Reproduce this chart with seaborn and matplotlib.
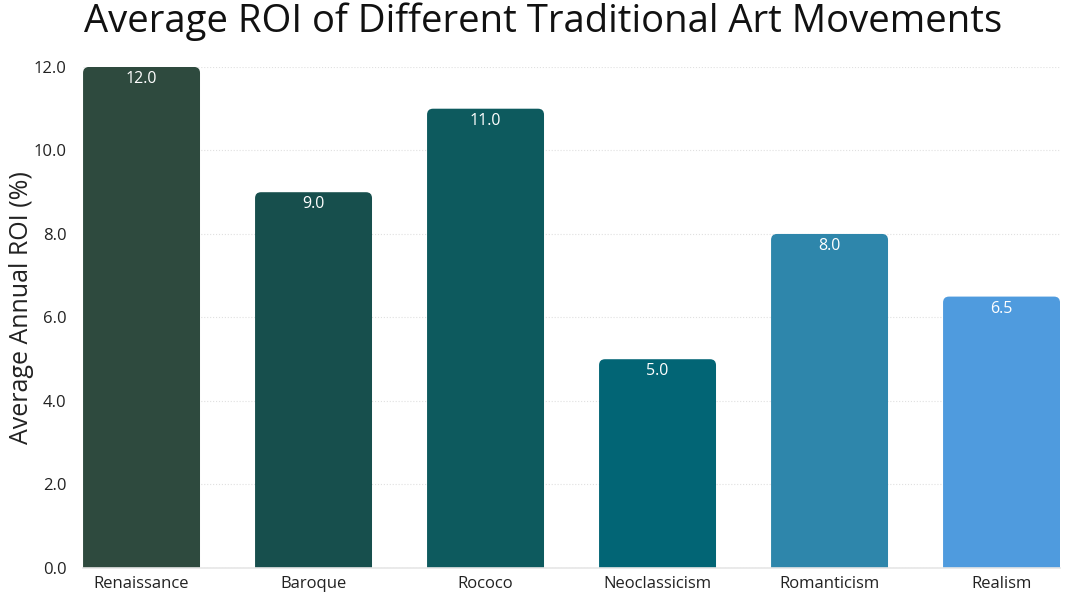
import pandas as pd
import matplotlib
matplotlib.use("Agg")
import matplotlib.pyplot as plt
import seaborn as sns
from matplotlib.patches import FancyBboxPatch

movements = ["Renaissance", "Baroque", "Rococo", "Neoclassicism", "Romanticism", "Realism"]
roi = [12.0, 9.0, 11.0, 5.0, 8.0, 6.5]
colors = ["#2E4A3E", "#174F4D", "#0D5A5E", "#026575", "#2E86AB", "#4F9BDE"]

sns.set_style("white")
plt.rcParams["font.family"] = ["Open Sans", "DejaVu Sans"]

df = pd.DataFrame({"movement": movements, "roi": roi})

fig = plt.figure(figsize=(10.8, 6.07), dpi=100)
ax = fig.add_axes([0.0769, 0.0643, 0.9046, 0.8254])

sns.barplot(data=df, x="movement", y="roi", hue="movement", palette=colors,
            width=0.68, legend=False, ax=ax, saturation=1)

# swap plain bars for ones with rounded tops
px_x = 977 / 5.68
px_y = 501 / 12.0
aspect = px_x / px_y
rad = 6 / px_x
for p in list(ax.patches):
    x0, w, h = p.get_x(), p.get_width(), p.get_height()
    fc = p.get_facecolor()
    p.remove()
    ext = 0.3
    rb = FancyBboxPatch((x0, -ext), w, h + ext,
                        boxstyle=f"round,pad=0,rounding_size={rad}",
                        mutation_aspect=aspect, facecolor=fc, edgecolor="none",
                        zorder=2)
    ax.add_patch(rb)
    ax.text(x0 + w / 2, h - 0.1, f"{h:.1f}", ha="center", va="top",
            color="white", fontsize=11.5, zorder=3)

ax.set_xlim(-0.34, 5.34)
ax.set_ylim(0, 12)
ax.set_yticks([0, 2, 4, 6, 8, 10, 12])
ax.set_yticklabels([f"{v:.1f}" for v in [0, 2, 4, 6, 8, 10, 12]])
ax.yaxis.grid(True, linestyle=":", color="#e0e0e0", linewidth=0.8, zorder=0)
ax.set_axisbelow(True)
for s in ["top", "right", "left"]:
    ax.spines[s].set_visible(False)
ax.spines["bottom"].set_color("#e6e6e6")
ax.spines["bottom"].set_linewidth(1.2)
ax.tick_params(axis="both", length=0, labelsize=12, colors="#222222")
ax.tick_params(axis="y", pad=12)
ax.tick_params(axis="x", pad=6)
ax.set_xlabel("")
ax.set_ylabel("Average Annual ROI (%)", fontsize=18, color="#222222")
ax.yaxis.set_label_coords(-0.05, 0.52)

fig.text(0.078, 0.965, "Average ROI of Different Traditional Art Movements",
         fontsize=27.5, ha="left", va="center", color="#111111")

fig.savefig("out.png", dpi=100)
